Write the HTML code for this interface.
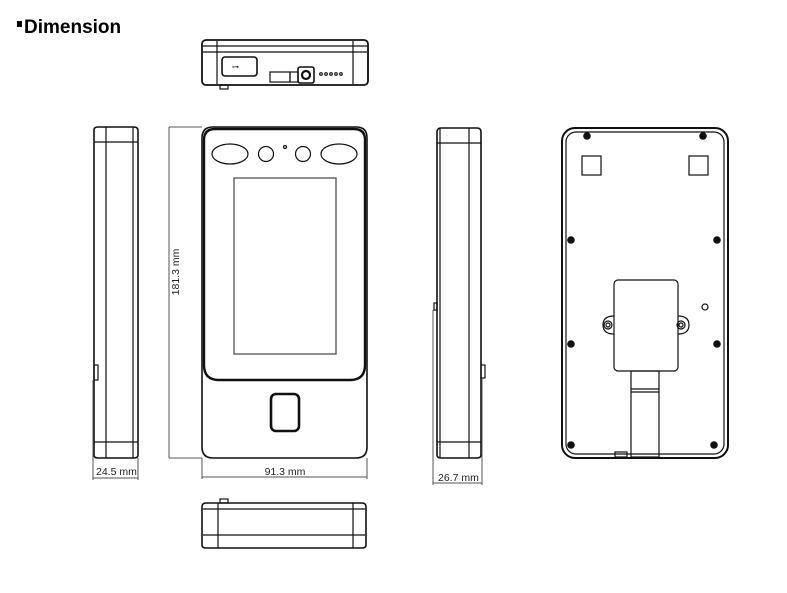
<!DOCTYPE html>
<html><head><meta charset="utf-8"><style>
html,body{margin:0;padding:0;background:#fff;}
svg{display:block;}
text{font-family:"Liberation Sans",Arial,sans-serif;}
</style></head><body>
<svg width="787" height="593" viewBox="0 0 787 593" xmlns="http://www.w3.org/2000/svg">
<rect x="17" y="21" width="5" height="6" fill="#000"/>
<text x="24" y="33" font-size="19" font-weight="bold" fill="#000">Dimension</text>

<g fill="none" stroke="#111" stroke-width="1.2">
<!-- top view -->
<rect x="202" y="40" width="166" height="45" rx="4" stroke-width="1.8"/>
<line x1="203" y1="46" x2="367" y2="46"/>
<line x1="203" y1="52" x2="367" y2="52"/>
<line x1="217" y1="41" x2="217" y2="84"/>
<line x1="353" y1="41" x2="353" y2="84"/>
<rect x="222" y="57" width="35" height="19" rx="3" stroke-width="1.6"/>
<text x="232" y="69" font-size="7" fill="#222" stroke="none">⊶</text>
<rect x="220" y="85" width="8" height="4"/>
<rect x="270" y="72" width="20" height="10"/>
<rect x="290" y="72" width="8" height="10"/>
<rect x="298" y="67" width="16" height="16" rx="2" stroke-width="1.6"/>
<circle cx="306" cy="75" r="4" stroke-width="2.2"/>
<circle cx="321" cy="74" r="1.3"/><circle cx="326" cy="74" r="1.3"/><circle cx="331" cy="74" r="1.3"/><circle cx="336" cy="74" r="1.3"/><circle cx="341" cy="74" r="1.3"/>

<!-- left side view -->
<path d="M94 130 Q94 127 98 127 L134 127 Q138 127 138 131 L138 455 Q138 458 134 458 L98 458 Q94 458 94 455 Z" stroke-width="1.6"/>
<line x1="106" y1="127" x2="106" y2="458"/>
<line x1="133" y1="127" x2="133" y2="458"/>
<line x1="94" y1="142" x2="138" y2="142"/>
<line x1="94" y1="442" x2="138" y2="442"/>
<rect x="94" y="365" width="4" height="15"/>
<line x1="93" y1="380" x2="93" y2="480" stroke="#555" stroke-width="1"/>
<line x1="138" y1="458" x2="138" y2="480" stroke="#555" stroke-width="1"/>
<line x1="93" y1="478" x2="138" y2="478" stroke="#555" stroke-width="1"/>

<!-- front view -->
<path d="M202 138 Q202 127 213 127 L356 127 Q367 127 367 138 L367 447 Q367 458 356 458 L213 458 Q202 458 202 447 Z" stroke-width="1.6"/>
<path d="M204 140 Q204 129 215 129 L354 129 Q365 129 365 140 L365 365 Q365 380 350 380 L219 380 Q204 380 204 365 Z" stroke-width="2.4"/>
<ellipse cx="230" cy="154" rx="18" ry="10"/>
<ellipse cx="339" cy="154" rx="18" ry="10"/>
<circle cx="266" cy="154" r="7.5"/>
<circle cx="303" cy="154" r="7.5"/>
<circle cx="285" cy="147" r="1.5"/>
<rect x="234" y="178" width="102" height="176" stroke="#444"/>
<rect x="271" y="394" width="28" height="37" rx="5" stroke-width="2.6"/>
<line x1="169" y1="127" x2="169" y2="458" stroke="#555" stroke-width="1"/>
<line x1="169" y1="127" x2="202" y2="127" stroke="#555" stroke-width="1"/>
<line x1="169" y1="458" x2="202" y2="458" stroke="#555" stroke-width="1"/>
<line x1="202" y1="458" x2="202" y2="479" stroke="#555" stroke-width="1"/>
<line x1="367" y1="458" x2="367" y2="479" stroke="#555" stroke-width="1"/>
<line x1="202" y1="477" x2="367" y2="477" stroke="#555" stroke-width="1"/>

<!-- bottom view -->
<path d="M202 507 Q202 503 206 503 L362 503 Q366 503 366 507 L366 545 Q366 548 362 548 L206 548 Q202 548 202 545 Z" stroke-width="1.6"/>
<line x1="218" y1="503" x2="218" y2="548"/>
<line x1="353" y1="503" x2="353" y2="548"/>
<line x1="203" y1="509" x2="365" y2="509"/>
<line x1="203" y1="535" x2="365" y2="535"/>
<rect x="220" y="499" width="8" height="4"/>

<!-- right side view -->
<path d="M437 132 Q437 128 441 128 L477 128 Q481 128 481 132 L481 455 Q481 458 477 458 L441 458 Q437 458 437 455 Z" stroke-width="1.6"/>
<line x1="440" y1="128" x2="440" y2="458"/>
<line x1="469" y1="128" x2="469" y2="458"/>
<line x1="437" y1="143" x2="481" y2="143"/>
<line x1="437" y1="442" x2="481" y2="442"/>
<rect x="434" y="303" width="3" height="7"/>
<rect x="481" y="365" width="4" height="13"/>
<line x1="433" y1="310" x2="433" y2="485" stroke="#555" stroke-width="1"/>
<line x1="482" y1="378" x2="482" y2="485" stroke="#555" stroke-width="1"/>
<line x1="433" y1="483" x2="482" y2="483" stroke="#555" stroke-width="1"/>

<!-- back view -->
<rect x="562" y="128" width="166" height="330" rx="13" stroke-width="2"/>
<rect x="566" y="132" width="158" height="322" rx="10"/>
<rect x="582" y="156" width="19" height="19"/>
<rect x="689" y="156" width="19" height="19"/>
<rect x="614" y="280" width="64" height="91" rx="4"/>
<path d="M614 316 Q603 316 603 325 Q603 334 614 334"/>
<path d="M678 316 Q689 316 689 325 Q689 334 678 334"/>
<circle cx="608" cy="325" r="4"/><circle cx="608" cy="325" r="2"/>
<circle cx="681" cy="325" r="4"/><circle cx="681" cy="325" r="2"/>
<circle cx="705" cy="307" r="3"/>
<rect x="631" y="371" width="28" height="86"/>
<line x1="631" y1="389" x2="659" y2="389"/>
<line x1="631" y1="392" x2="659" y2="392"/>
<rect x="615" y="452" width="12" height="5"/>
</g>
<g fill="#111">
<circle cx="587" cy="136" r="3.8"/><circle cx="703" cy="136" r="3.8"/>
<circle cx="571" cy="240" r="3.8"/><circle cx="717" cy="240" r="3.8"/>
<circle cx="571" cy="344" r="3.8"/><circle cx="717" cy="344" r="3.8"/>
<circle cx="571" cy="445" r="3.8"/><circle cx="714" cy="445" r="3.8"/>
</g>

<g font-size="10.5" fill="#222">
<text x="96" y="475">24.5 mm</text>
<text x="285" y="475" text-anchor="middle">91.3 mm</text>
<text x="438" y="481">26.7 mm</text>
<text transform="translate(179 272) rotate(-90)" text-anchor="middle">181.3 mm</text>
</g>
</svg>
</body></html>
